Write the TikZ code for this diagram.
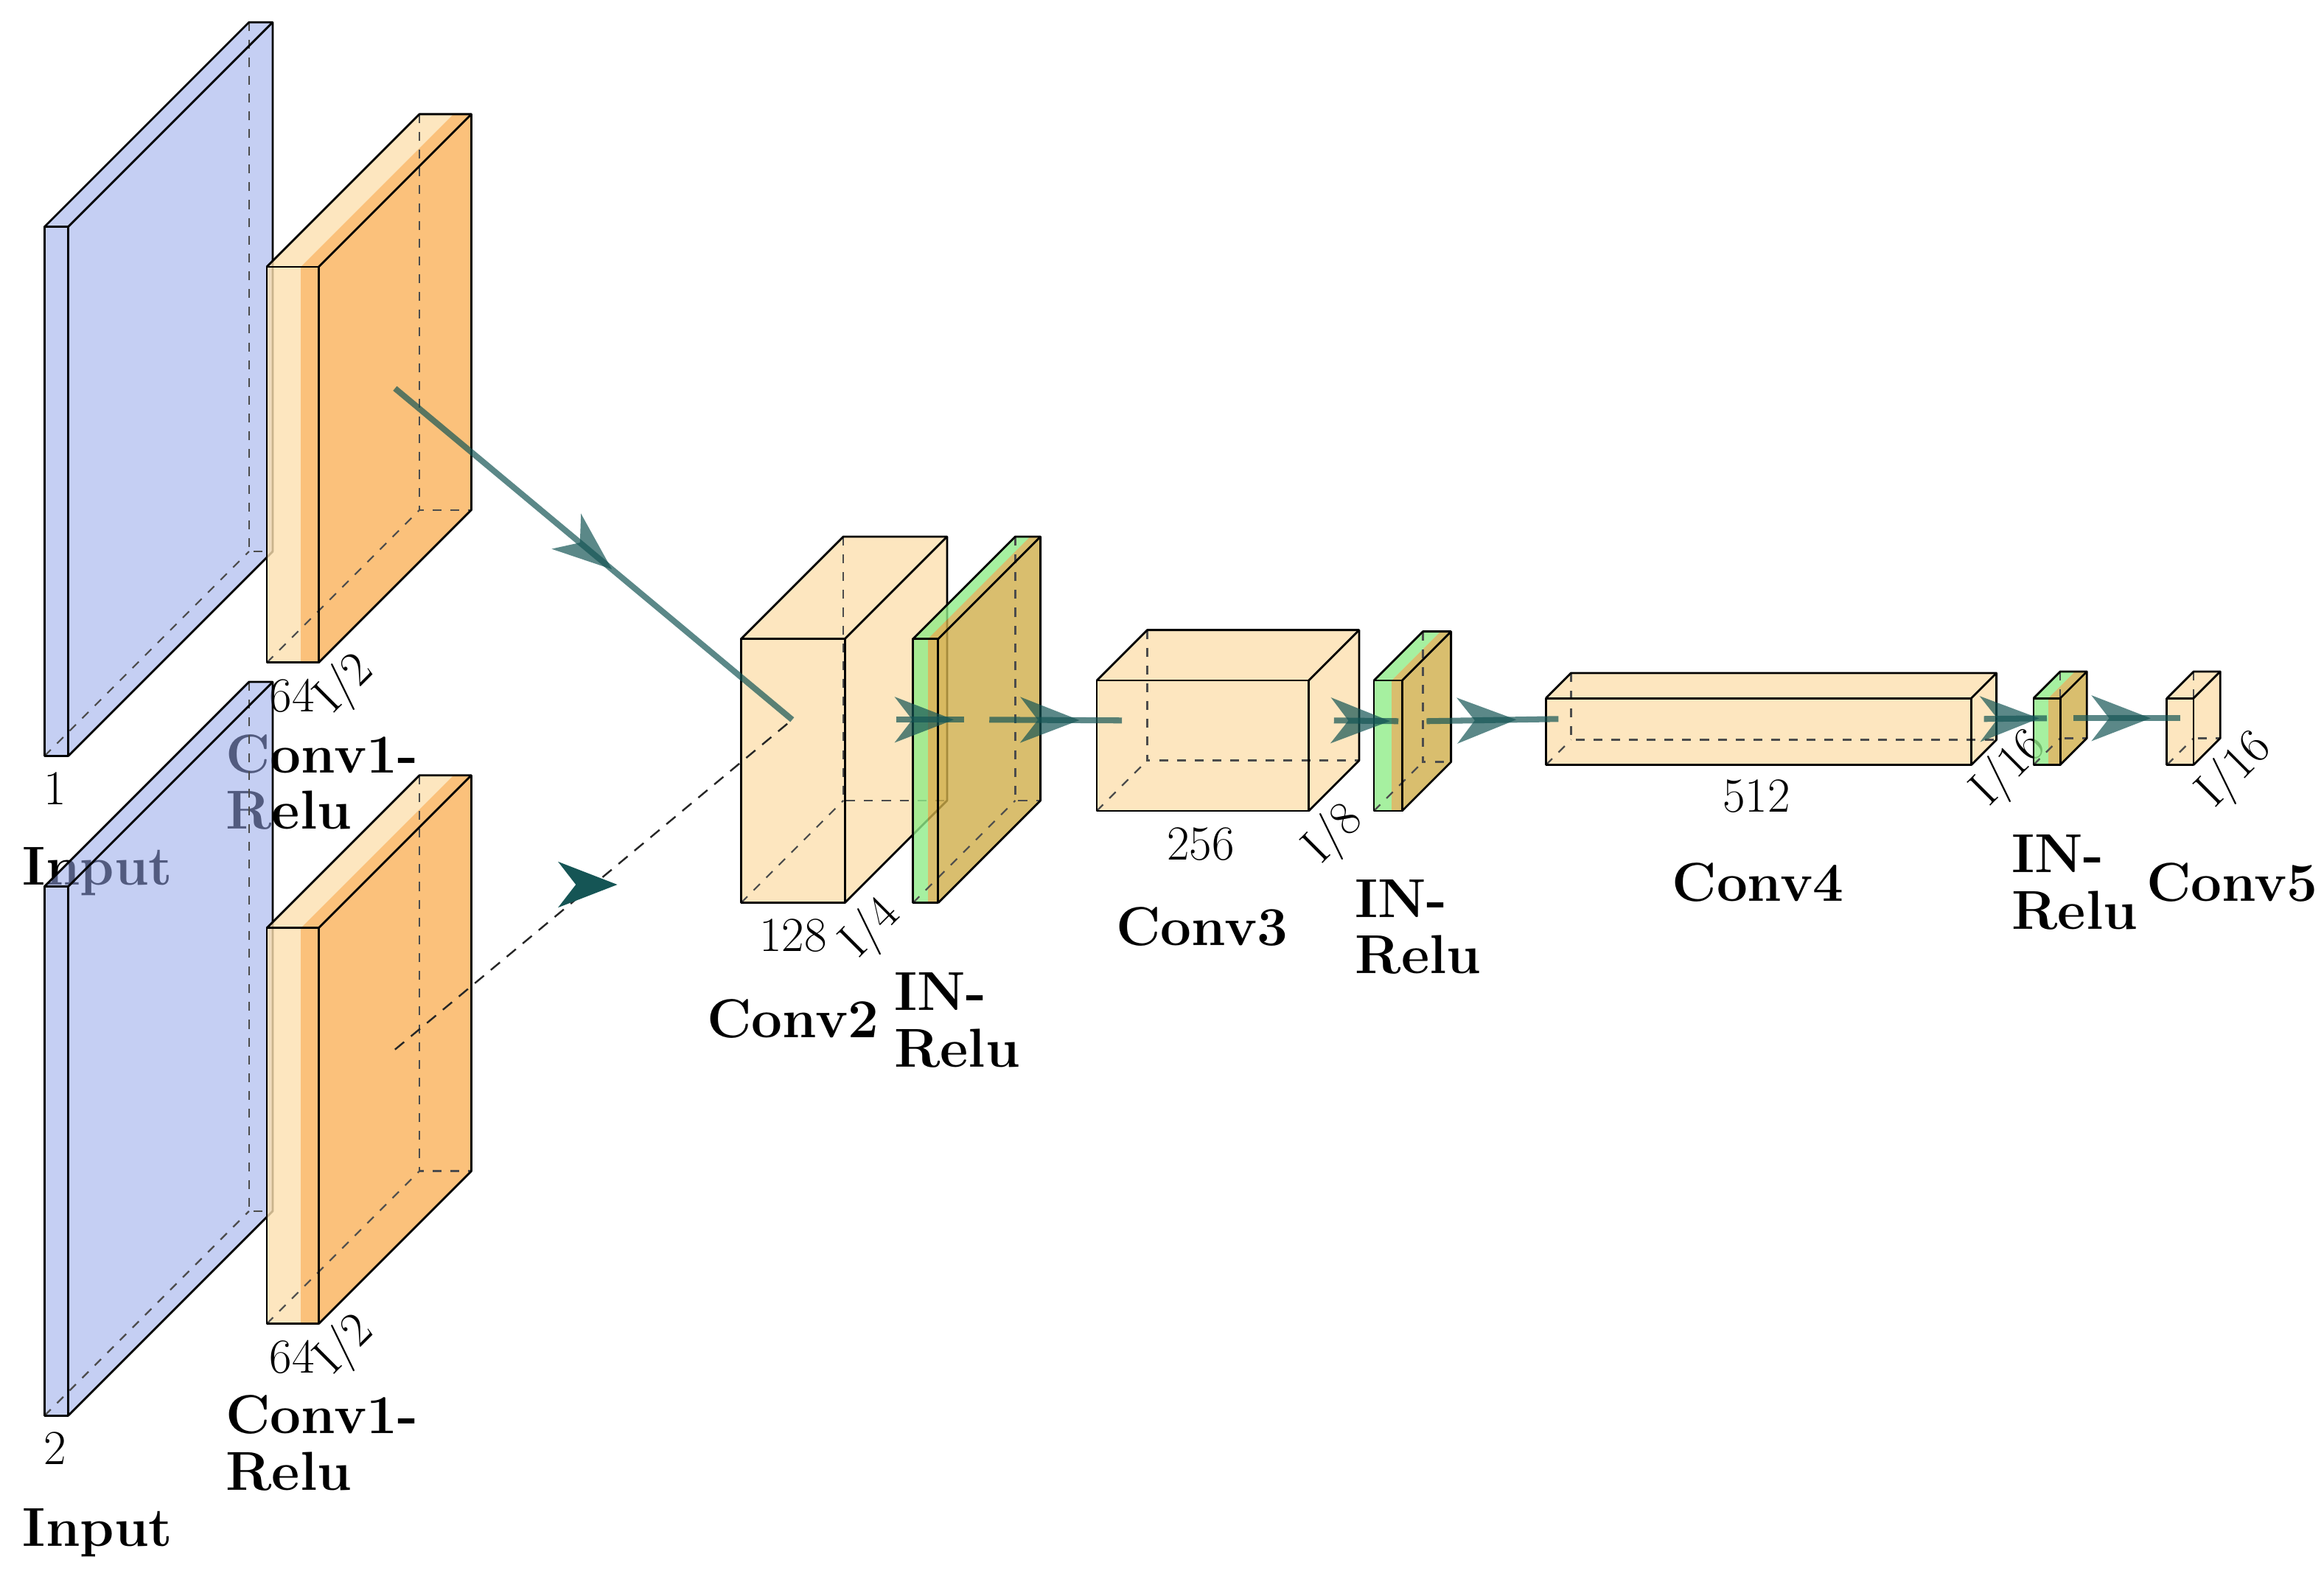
\documentclass[tikz,border=0pt]{standalone}
\usepackage{tikz}
\usetikzlibrary{decorations.markings}
\definecolor{inputcol}{RGB}{150,167,233}
\definecolor{convcol}{RGB}{252,224,175}
\definecolor{relucol}{RGB}{250,178,90}
\definecolor{normcol}{RGB}{144,236,136}
\definecolor{inrelucol}{RGB}{207,174,74}
\definecolor{edgecol}{rgb}{0.083,0.333,0.333}
\tikzstyle{boxfill}=[fill opacity=0.8]
\tikzstyle{boxedge}=[draw=black, line width=0.7pt, line join=round]
\tikzstyle{hiddenedge}=[draw=black!70, line width=0.55pt, dashed]
\tikzstyle{caption}=[inner sep=0, font=\fontsize{18.5}{19}\selectfont\bfseries, align=left]
\tikzstyle{dimlabel}=[inner sep=0, font=\fontsize{16.5}{16.5}\selectfont]
\tikzstyle{connection}=[draw=edgecol, line width=2pt, opacity=0.7]
\tikzstyle{skipline}=[draw=black!85, line width=0.6pt, dash pattern=on 4pt off 3pt]
\tikzset{midarrow/.style={postaction={decorate, decoration={markings,
             mark=at position 0.5 with {\fill[fill=edgecol, fill opacity=0.7] (8pt,0pt) -- (-12pt,7.75pt) -- (-6pt,0pt) -- (-12pt,-7.75pt) -- cycle;}}}}}
% box: name, x, y (front top left), width, height, depth, band, front colour, band colour
\newcommand{\layerbox}[9]{%
        \fill[boxfill, fill=#8] (#2,#3) rectangle ++(#7,#5);
        \fill[boxfill, fill=#9] ({#2+#7},#3) rectangle ({#2+#4},{#3+#5});
        \fill[boxfill, fill=#8] (#2,#3) -- ++(#6,-#6) -- ++(#7,0) -- ++(-#6,#6) -- cycle;
        \fill[boxfill, fill=#9] ({#2+#7},#3) -- ++(#6,-#6) -- ({#2+#4+#6},{#3-#6}) -- ({#2+#4},#3) -- cycle;
        \fill[boxfill, fill=#9] ({#2+#4},#3) -- ++(#6,-#6) -- ++(0,#5) -- ++(-#6,#6) -- cycle;
        \draw[hiddenedge] ({#2+#6},{#3-#6}) -- ++(0,#5) -- ++(#4,0);
        \draw[hiddenedge] (#2,{#3+#5}) -- ++(#6,-#6);
        \draw[boxedge] (#2,#3) rectangle ++(#4,#5);
        \draw[boxedge] (#2,#3) -- ++(#6,-#6) -- ++(#4,0) -- ++(0,#5) -- ++(-#6,#6);
        \draw[boxedge] ({#2+#4},#3) -- ++(#6,-#6);
        \coordinate (#1-west) at ({#2+#6/2},{#3+#5/2-#6/2});
        \coordinate (#1-east) at ({#2+#4+#6/2},{#3+#5/2-#6/2});
}

\begin{document}
\begin{tikzpicture}[x=0.5pt, y=-0.5pt]
        \useasboundingbox (0,0) rectangle (1568,1067);
        % first input branch
        \begin{scope}[boxfill/.style={fill opacity=0.55}]
        \layerbox{input1}{30}{153}{16}{357}{138}{16}{inputcol}{inputcol}
        \end{scope}
        \node[dimlabel, anchor=base] (depth-input1) at (37,543) {1};
        \node[caption, anchor=base west] (cap-input1) at (15,597) {Input};
        \layerbox{conv1a}{180}{180}{35}{267}{103}{23}{convcol}{relucol}
        \node[dimlabel, anchor=base] (width-conv1a) at (197,480) {64};
        \node[dimlabel, rotate=45] (size-conv1a) at (233,462) {I/2};
        \node[caption, anchor=north west] (cap-conv1a) at (152,495) {Conv1-\\Relu};
        % second input branch
        \begin{scope}[boxfill/.style={fill opacity=0.55}]
        \layerbox{input2}{30}{598}{16}{357}{138}{16}{inputcol}{inputcol}
        \end{scope}
        \node[dimlabel, anchor=base] (depth-input2) at (37,988) {2};
        \node[caption, anchor=base west] (cap-input2) at (15,1043) {Input};
        \layerbox{conv1b}{180}{626}{35}{267}{103}{23}{convcol}{relucol}
        \node[dimlabel, anchor=base] (width-conv1b) at (197,926) {64};
        \node[dimlabel, rotate=45] (size-conv1b) at (233,908) {I/2};
        \node[caption, anchor=north west] (cap-conv1b) at (152,941) {Conv1-\\Relu};
        % encoder
        \layerbox{conv2}{500}{431}{70}{178}{69}{70}{convcol}{convcol}
        \node[dimlabel, anchor=base] (width-conv2) at (535,642) {128};
        \node[dimlabel, rotate=45] (size-conv2) at (588,627) {I/4};
        \node[caption, anchor=base] (cap-conv2) at (535,700) {Conv2};
        \layerbox{inrelu1}{616}{431}{17}{178}{69}{10}{normcol}{inrelucol}
        \node[caption, anchor=north west] (cap-inrelu1) at (603,656) {IN-\\Relu};
        \layerbox{conv3}{740}{459}{143}{88}{34}{143}{convcol}{convcol}
        \node[dimlabel, anchor=base] (width-conv3) at (810,580) {256};
        \node[dimlabel, rotate=45] (size-conv3) at (900,563) {I/8};
        \node[caption, anchor=base] (cap-conv3) at (811,638) {Conv3};
        \layerbox{inrelu2}{927}{459}{19}{88}{33}{12}{normcol}{inrelucol}
        \node[caption, anchor=north west] (cap-inrelu2) at (914,593) {IN-\\Relu};
        \layerbox{conv4}{1043}{471}{287}{45}{17}{287}{convcol}{convcol}
        \node[dimlabel, anchor=base] (width-conv4) at (1185,548) {512};
        \node[dimlabel, rotate=45] (size-conv4) at (1356,519) {I/16};
        \node[caption, anchor=base] (cap-conv4) at (1186,608) {Conv4};
        \layerbox{inrelu3}{1372}{471}{18}{45}{18}{10}{normcol}{inrelucol}
        \node[caption, anchor=north west] (cap-inrelu3) at (1357,563) {IN-\\Relu};
        \layerbox{conv5}{1462}{471}{18}{45}{18}{18}{convcol}{convcol}
        \node[dimlabel, rotate=45] (size-conv5) at (1508,520) {I/16};
        \node[caption, anchor=base] (cap-conv5) at (1506,608) {Conv5};
        % connections
        \draw[connection, midarrow] (conv1a-east) -- (conv2-west);
        \draw[skipline] (conv1b-east) -- coordinate[midway] (skipmid) (conv2-west);
        \fill[edgecol] ([xshift=8pt]skipmid) -- ++(-20pt,7.75pt) -- ++(6pt,-7.75pt) -- ++(-6pt,-7.75pt) -- cycle;
        \draw[connection, midarrow] (conv2-east) -- (inrelu1-west);
        \draw[connection, midarrow] (inrelu1-east) -- (conv3-west);
        \draw[connection, midarrow] (conv3-east) -- (inrelu2-west);
        \draw[connection, midarrow] (inrelu2-east) -- (conv4-west);
        \draw[connection, midarrow] (conv4-east) -- (inrelu3-west);
        \draw[connection, midarrow] (inrelu3-east) -- (conv5-west);
\end{tikzpicture}
\end{document}
